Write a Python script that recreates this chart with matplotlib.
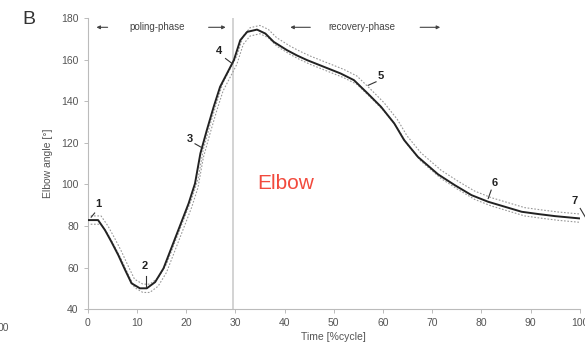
import numpy as np
import matplotlib.pyplot as plt

# mean elbow angle over the poling cycle
time_pct = [0, 2.1, 3.5, 4.8, 6.2, 7.6, 8.9, 10.6, 12, 13.7, 15.4, 17.1, 18.8, 20.5,
            21.8, 22.9, 24.2, 25.6, 26.9, 28.3, 29.7, 31, 32.4, 34.4, 36.1, 37.8,
            40.5, 42.5, 44.6, 48, 51.4, 54.1, 56.9, 59.6, 62.3, 64.3, 67.1, 71.2,
            74.6, 78, 81.4, 84.8, 88.2, 91.6, 95, 100]
elbow_mean = [82.8, 82.8, 78, 72.4, 66, 58.8, 52.4, 50, 50, 53, 59.6, 70, 80.4, 90.8,
              100.4, 114.9, 126, 137.3, 146.9, 153.3, 159.7, 169.3, 173.3, 174.4, 172.5, 168.5,
              164.5, 162, 159.7, 156.5, 153.3, 150.1, 143.7, 137.3, 129.3, 121.3, 113.2, 104.8,
              99.6, 94.8, 91.6, 89.2, 86.8, 85.7, 84.7, 83.6]
band = 2.0

x_ticks = [0, 10, 20, 30, 40, 50, 60, 70, 80, 90, 100]
y_ticks = [40, 60, 80, 100, 120, 140, 160, 180]

# numbered events: label position and its short pointer line (start -> end)
event_labels = ['1', '2', '3', '4', '5', '6', '7']
event_text_x = [2.1, 11.6, 20.8, 26.6, 59.6, 82.7, 99.0]
event_text_y = [90.5, 60.5, 122, 164, 152, 100.5, 92]
line_x0 = [1.4, 11.8, 21.8, 28.0, 58.6, 82.0, 100.1]
line_y0 = [86.2, 55.8, 119.5, 160.5, 149.3, 97.2, 88.4]
line_x1 = [0.7, 11.8, 23.3, 29.4, 57.0, 81.4, 101.1]
line_y1 = [84.2, 50.8, 117.5, 158.0, 147.6, 93.2, 84.4]

gray = '#555555'
plt.rcParams['font.family'] = ['Liberation Sans', 'DejaVu Sans']

fig = plt.figure(figsize=(5.85, 3.59), dpi=100)
ax = fig.add_axes([0.150, 0.139, 0.841, 0.811])

t = np.array(time_pct)
m = np.array(elbow_mean)
ax.plot(t, m, color='#222222', lw=1.4, zorder=3)
ax.plot(t + 0.6, m + band, color='#999999', lw=0.8, ls=(0, (1.5, 1.5)), zorder=2)
ax.plot(t + 0.6, m - band, color='#999999', lw=0.8, ls=(0, (1.5, 1.5)), zorder=2)

# end of poling phase
ax.axvline(29.6, color='#cccccc', lw=1.2, zorder=1)

for i, lab in enumerate(event_labels):
    ax.text(event_text_x[i], event_text_y[i], lab, fontsize=8, fontweight='bold',
            color='#222222', ha='center', va='center', clip_on=False)
    ax.plot([line_x0[i], line_x1[i]], [line_y0[i], line_y1[i]], color='#333333',
            lw=0.8, clip_on=False, zorder=4)

# phase labels with arrows
arr = dict(arrowstyle='-|>', color='#444444', lw=0.8, mutation_scale=5)
ax.annotate('', xy=(1.2, 175.5), xytext=(4.6, 175.5), arrowprops=arr)
ax.text(14.2, 175.5, 'poling-phase', fontsize=7, color='#444444', ha='center', va='center')
ax.annotate('', xy=(28.6, 175.5), xytext=(24.0, 175.5), arrowprops=arr)
ax.annotate('', xy=(40.6, 175.5), xytext=(45.8, 175.5), arrowprops=arr)
ax.text(55.8, 175.5, 'recovery-phase', fontsize=7, color='#444444', ha='center', va='center')
ax.annotate('', xy=(72.2, 175.5), xytext=(67.0, 175.5), arrowprops=arr)

ax.set_xlim(0, 100)
ax.set_ylim(40, 180)
ax.set_xticks(x_ticks)
ax.set_yticks(y_ticks)
for s in ['top', 'right']:
    ax.spines[s].set_visible(False)
for s in ['left', 'bottom']:
    ax.spines[s].set_color('#bbbbbb')
    ax.spines[s].set_linewidth(0.8)
ax.tick_params(colors='#bbbbbb', labelcolor=gray, labelsize=7.5, length=3, width=0.7)
ax.set_xlabel('Time [%cycle]', fontsize=7.5, color=gray, labelpad=3)
ax.set_ylabel('Elbow angle [°]', fontsize=7.5, color=gray, labelpad=6)

fig.text(0.050, 0.945, 'B', fontsize=14, color='#333333', ha='center', va='center')
fig.text(0.006, 0.086, '00', fontsize=7.5, color=gray, ha='center', va='center')
fig.text(0.489, 0.49, 'Elbow', fontsize=15, color='#f24a3d', ha='center', va='center')

fig.savefig('out.png', dpi=100)
